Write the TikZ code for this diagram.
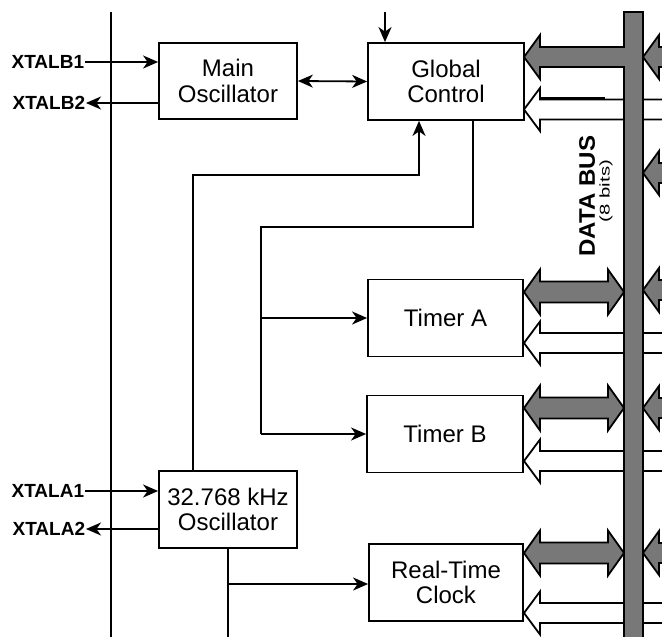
\documentclass[tikz,border=0pt]{standalone}
\usepackage{fontspec}
\setmainfont{Liberation Sans}
\usetikzlibrary{arrows.meta}
\definecolor{busgray}{RGB}{120,120,120}
\begin{document}
\begin{tikzpicture}[x=1pt,y=-1pt, line width=1.8pt,
  blk/.style={draw, fill=white, inner sep=0pt, align=center, font=\fontsize{24}{25.5}\selectfont},
  pinlbl/.style={font=\bfseries\fontsize{19}{19}\selectfont, inner sep=0pt, anchor=east},
  arr/.style={-{Stealth[length=15pt,width=13pt,inset=4.5pt]}},
  darr/.style={{Stealth[length=15pt,width=13pt,inset=4.5pt]}-{Stealth[length=15pt,width=13pt,inset=4.5pt]}},
  fatline/.style={draw, fill=busgray, line join=miter},
  hollowline/.style={draw, fill=white, line join=miter},
]
\useasboundingbox (0,0) rectangle (662,637);
\clip (0,0) rectangle (662,637);

% blocks
\node[blk, minimum width=138pt, minimum height=76pt] (mosc) at (228,81) {Main\\Oscillator};
\node[blk, minimum width=156pt, minimum height=77pt] (gc) at (446,81.5) {Global\\Control};
\node[blk, minimum width=155pt, minimum height=77pt] (ta) at (445.5,318) {Timer A};
\node[blk, minimum width=156pt, minimum height=77pt] (tb) at (445,434) {Timer B};
\node[blk, minimum width=154pt, minimum height=77pt] (rtc) at (446,582.5) {Real-Time\\Clock};
\node[blk, minimum width=138pt, minimum height=77pt] (kosc) at (228,509.5) {32.768 kHz\\Oscillator};

% pin labels
\node[pinlbl] (xb1) at (85,62) {XTALB1};
\node[pinlbl] (xb2) at (86,103) {XTALB2};
\node[pinlbl] (xa1) at (85,491) {XTALA1};
\node[pinlbl] (xa2) at (86,529) {XTALA2};

% left rail
\coordinate (railtop) at (111,12);
\coordinate (railbot) at (111,640);
\draw (railtop) -- (railbot);

% pin connectors
\draw[arr] (xb1.east) -- (mosc.west |- xb1.east);
\draw[arr] (mosc.west |- xb2.east) -- (xb2.east);
\draw[arr] (xa1.east) -- (kosc.west |- xa1.east);
\draw[arr] (kosc.west |- xa2.east) -- (xa2.east);

% main osc <-> global control
\draw[darr] (mosc.east) -- (gc.west);

% top input to global control
\coordinate (gctop) at (385,12);
\draw[arr] (gctop) -- (gctop |- gc.north);

% 32 kHz osc to global control
\coordinate (k1) at (193,175);
\coordinate (k2) at (419,175);
\draw[arr] (k1 |- kosc.north) -- (k1) -- (k2) -- (k2 |- gc.south);

% global control to timers
\coordinate (g1) at (473,227);
\coordinate (g2) at (261,227);
\draw (g1 |- gc.south) -- (g1) -- (g2) -- (g2 |- tb.west);
\draw[arr] (g2 |- ta.west) -- (ta.west);
\draw[arr] (g2 |- tb.west) -- (tb.west);

% 32 kHz osc to RTC
\coordinate (r1) at (228,584);
\coordinate (kbot) at (228,640);
\draw (kosc.south -| kbot) -- (kbot);
\draw[arr] (r1) -- (r1 -| rtc.west);

% hollow arrows (behind the bus)
\foreach \y in {109.5,343,461,613}{
  \path[hollowline] (524,\y) -- (540,\y-21.5) -- (540,\y-10) -- (700,\y-10)
     -- (700,\y+10) -- (540,\y+10) -- (540,\y+21.5) -- cycle;
}
\draw[line width=3pt] (540,98.8) -- (605,98.8);

% gray heads right of the bus
\foreach \y in {57,173,290,408,553}{
  \path[fatline] (643,\y) -- (659,\y-22) -- (659,\y-10) -- (700,\y-10)
     -- (700,\y+10) -- (659,\y+10) -- (659,\y+22) -- cycle;
}

% data bus
\path[fatline] (624,12) rectangle (643,660);

% global control fat arrow merged into the bus
\fill[busgray] (524,57) -- (540,35) -- (540,47) -- (625.8,47) -- (625.8,67) -- (540,67) -- (540,79) -- cycle;
\draw[line join=miter] (624.9,47) -- (540,47) -- (540,35) -- (524,57) -- (540,79) -- (540,67) -- (624.9,67);

% double fat arrows timers / RTC
\foreach \y in {292,408,553}{
  \path[fatline] (524,\y) -- (540,\y-22.5) -- (540,\y-10.5) -- (608,\y-10.5)
     -- (608,\y-22.5) -- (624,\y) -- (608,\y+22.5) -- (608,\y+10.5)
     -- (540,\y+10.5) -- (540,\y+22.5) -- cycle;
}

% bus label
\node[rotate=90, font=\bfseries\fontsize{22.5}{22.5}\selectfont, inner sep=0pt] (dbus) at (587,196) {\scalebox{1.07}[1]{DATA BUS}};
\node[rotate=90, font=\fontsize{14}{14}\selectfont, inner sep=0pt] (bits) at (606,191) {\scalebox{1.45}[1]{(8 bits)}};
\end{tikzpicture}
\end{document}
